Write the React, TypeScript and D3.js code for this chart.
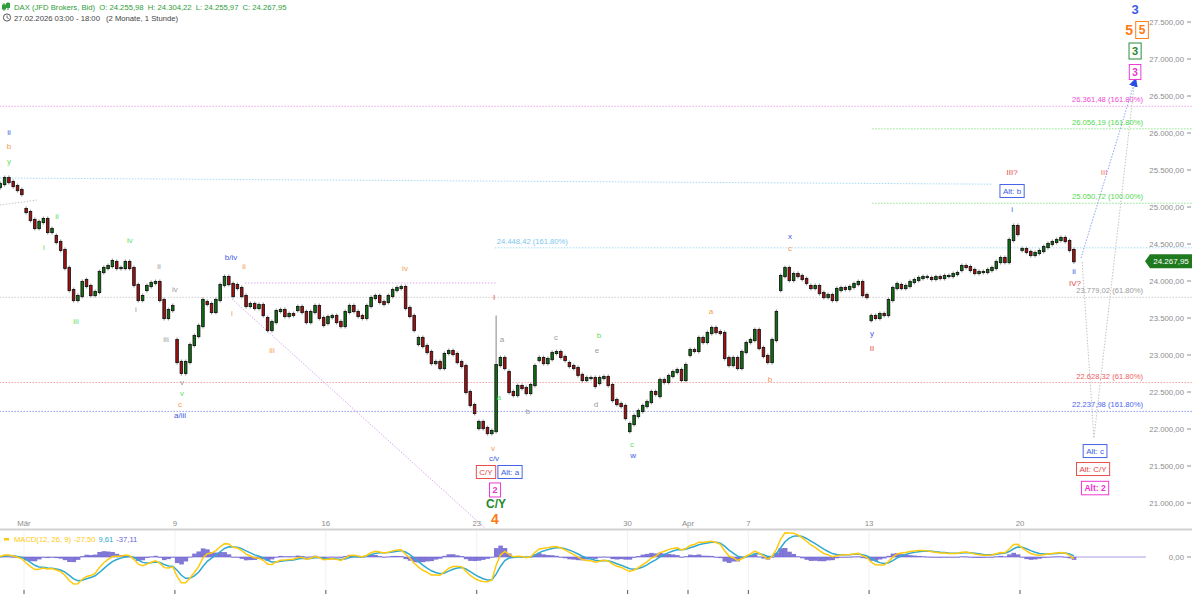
import React from "react";
import * as d3 from "d3";

const WIDTH = 1192;
const HEIGHT = 594;
const MAIN_BOTTOM = 528;
const MACD_ZERO_Y = 557;
const MACD_HALF = 27;
const SLOTS = 7;
const FONT = '"Liberation Sans", Arial, sans-serif';

// trading sessions (index 0 = 27.02.2026)
const tradingDays = [
  "27.02", "02.03", "03.03", "04.03", "05.03", "06.03", "09.03", "10.03", "11.03", "12.03",
  "13.03", "16.03", "17.03", "18.03", "19.03", "20.03", "23.03", "24.03", "25.03", "26.03",
  "27.03", "30.03", "31.03", "01.04", "02.04", "07.04", "08.04", "09.04", "10.04", "13.04",
  "14.04", "15.04", "16.04", "17.04", "20.04", "21.04",
];

// per session: opening price followed by the closes of the session's candles
const sessionPrices: number[][] = [
  [25229, 25270, 25310, 25391, 25337, 25283, 25229, 25175],
  [24973, 24932, 24824, 24716, 24797, 24838, 24662, 24703],
  [24608, 24527, 24419, 24176, 23878, 23743, 23797, 23986],
  [24013, 23932, 23810, 23851, 24121, 24175, 24202, 24270],
  [24256, 24175, 24175, 24256, 24175, 23946, 23743, 23797],
  [23878, 23932, 23973, 23986, 23743, 23500, 23607, 23662],
  [23202, 22905, 22757, 22905, 23135, 23256, 23391, 23743],
  [23716, 23689, 23581, 23743, 23946, 24054, 23959, 23797],
  [23946, 23905, 23797, 23662, 23689, 23635, 23675, 23540],
  [23500, 23337, 23445, 23594, 23607, 23527, 23554, 23540],
  [23607, 23648, 23581, 23445, 23581, 23662, 23500, 23405],
  [23432, 23513, 23527, 23445, 23391, 23581, 23662, 23594],
  [23581, 23527, 23500, 23662, 23770, 23797, 23716, 23689],
  [23716, 23797, 23878, 23905, 23919, 23635, 23527, 23337],
  [23148, 23229, 23121, 23040, 22891, 22905, 22824, 23013],
  [23027, 23054, 23013, 22905, 22851, 22500, 22324, 22216],
  [22013, 22094, 22013, 21945, 21972, 22864, 22959, 22824],
  [22770, 22500, 22459, 22581, 22554, 22486, 22594, 22851],
  [22932, 22959, 22891, 22945, 23027, 23040, 22973, 22932],
  [22891, 22851, 22824, 22730, 22662, 22689, 22689, 22581],
  [22621, 22689, 22702, 22594, 22391, 22337, 22310, 22148],
  [21972, 22067, 22175, 22243, 22310, 22364, 22500, 22473],
  [22445, 22662, 22635, 22716, 22770, 22797, 22662, 22864],
  [23000, 23067, 23054, 23229, 23175, 23297, 23365, 23310],
  [23310, 23297, 22959, 22864, 22959, 22824, 23040, 23162],
  [23175, 23202, 23337, 23094, 22986, 22905, 23202, 23581],
  [23878, 24067, 24175, 24013, 24094, 24067, 24027, 23973],
  [23932, 23905, 23932, 23837, 23783, 23810, 23743, 23892],
  [23878, 23905, 23892, 23919, 23959, 23986, 23810, 23783],
  [23472, 23527, 23500, 23554, 23540, 23743, 23905, 23959],
  [23946, 23905, 23932, 23986, 24013, 24040, 24054, 24054],
  [24040, 24027, 24054, 24040, 24067, 24067, 24094, 24108],
  [24148, 24202, 24189, 24148, 24108, 24121, 24121, 24148],
  [24148, 24175, 24256, 24310, 24256, 24554, 24743, 24635],
  [24419, 24432, 24392, 24351, 24378, 24405, 24459, 24500],
  [24500, 24527, 24554, 24581, 24540, 24419, 24267.95],
];

// long wicks: [session, candle, high]
const wickHighs: [number, number, number][] = [[16, 5, 23500]];

const tickDays = [1, 6, 11, 16, 21, 23, 25, 29, 34];
const tickLabels = ["Mär", "9", "16", "23", "30", "Apr", "7", "13", "20"];
const priceTicks = [21000, 21500, 22000, 22500, 23000, 23500, 24000, 24500, 25000, 25500, 26000, 26500, 27000, 27500];

const BLUE = "#3d5ce6";
const ORANGE = "#f39a52";
const ORANGE_BOLD = "#ff7a12";
const LGREEN = "#5fdc5f";
const GRAY = "#9b9b9b";
const RED = "#e64646";
const RED_LIGHT = "#ee7575";
const MAGENTA = "#ee2fd0";
const DGREEN = "#1e8a2e";

// Fibonacci levels
const levelPrices = [26361.48, 26056.19, 25050.72, 24448.42, 23779.02, 22628.32, 22237.98];
const levelRatios = ["161.80%", "161.80%", "100.00%", "161.80%", "61.80%", "61.80%", "161.80%"];
const levelLineColors = ["#f3a3e8", "#8fe68f", "#8fe68f", "#a6daf5", "#cfcfcf", "#f5a5a5", "#8d9cf2"];
const levelTextColors = ["#f04ad4", "#4fd84f", "#4fd84f", "#7cc6ee", "#9a9a9a", "#ee5e5e", "#4a66ee"];
const levelStarts = [-2, 29.1, 29.1, 16.6, -2, -2, -2];
const levelLabelLeft = [false, false, false, true, false, false, false];

// trend / projection lines: [[session, price], ...]
const trendLines: { pts: [number, number][]; color: string; arrow?: boolean }[] = [
  { pts: [[0.2, 25392], [33.1, 25308]], color: "#a6daf5" },
  { pts: [[0.2, 25027], [1.43, 25094]], color: "#c8c8c8" },
  { pts: [[8.32, 23973], [16.67, 23973]], color: "#dba8ee" },
  { pts: [[7.89, 23757], [16.31, 20649]], color: "#dba8ee" },
  { pts: [[36.06, 24257], [36.45, 21878], [37.78, 26635]], color: "#c4c4c4" },
  { pts: [[36.02, 24310], [37.8, 26690]], color: "#8ea2f5", arrow: true },
];

type Lbl = { d: number; p: number; t: string; c: string; s?: number; b?: boolean; box?: boolean };

const waveLabels: Lbl[] = [
  { d: 0.503, p: 26013, t: "ii", c: BLUE },
  { d: 0.503, p: 25824, t: "b", c: ORANGE },
  { d: 0.503, p: 25621, t: "y", c: LGREEN },
  { d: 2.093, p: 24878, t: "ii", c: LGREEN },
  { d: 1.663, p: 24459, t: "i", c: LGREEN },
  { d: 2.723, p: 23459, t: "iii", c: LGREEN },
  { d: 4.512, p: 24554, t: "iv", c: LGREEN },
  { d: 5.473, p: 24202, t: "ii", c: GRAY },
  { d: 6.003, p: 23892, t: "iv", c: GRAY },
  { d: 4.711, p: 23622, t: "i", c: GRAY },
  { d: 5.705, p: 23216, t: "iii", c: GRAY },
  { d: 6.235, p: 22635, t: "v", c: GRAY },
  { d: 6.235, p: 22486, t: "v", c: LGREEN },
  { d: 6.169, p: 22338, t: "c", c: ORANGE },
  { d: 6.169, p: 22189, t: "a/iii", c: BLUE },
  { d: 7.859, p: 24324, t: "b/iv", c: BLUE },
  { d: 8.29, p: 24202, t: "ii", c: ORANGE },
  { d: 7.892, p: 23567, t: "i", c: ORANGE },
  { d: 9.217, p: 23067, t: "iii", c: ORANGE },
  { d: 13.624, p: 24176, t: "iv", c: ORANGE },
  { d: 16.573, p: 23784, t: "I", c: RED },
  { d: 16.838, p: 23216, t: "a", c: GRAY },
  { d: 16.739, p: 22432, t: "a", c: LGREEN },
  { d: 17.7, p: 22243, t: "b", c: GRAY },
  { d: 18.628, p: 23243, t: "c", c: GRAY },
  { d: 20.052, p: 23270, t: "b", c: LGREEN },
  { d: 19.986, p: 23067, t: "e", c: GRAY },
  { d: 19.953, p: 22338, t: "d", c: GRAY },
  { d: 21.146, p: 21797, t: "c", c: LGREEN },
  { d: 21.179, p: 21648, t: "w", c: BLUE },
  { d: 16.54, p: 21743, t: "v", c: ORANGE },
  { d: 16.573, p: 21608, t: "c/v", c: BLUE },
  { d: 23.763, p: 23594, t: "a", c: ORANGE },
  { d: 25.718, p: 22675, t: "b", c: ORANGE },
  { d: 26.381, p: 24608, t: "x", c: BLUE },
  { d: 26.381, p: 24446, t: "c", c: ORANGE },
  { d: 29.098, p: 23297, t: "y", c: BLUE },
  { d: 29.098, p: 23094, t: "II", c: RED },
  { d: 33.737, p: 25473, t: "III?", c: RED },
  { d: 33.737, p: 24973, t: "i", c: BLUE },
  { d: 35.791, p: 24135, t: "ii", c: BLUE },
  { d: 35.824, p: 23973, t: "IV?", c: RED },
  { d: 36.785, p: 25473, t: "III", c: RED_LIGHT },
  { d: 16.639, p: 20986, t: "C/Y", c: DGREEN, s: 12, b: true },
  { d: 16.606, p: 20783, t: "4", c: ORANGE_BOLD, s: 14, b: true },
  { d: 37.813, p: 27676, t: "3", c: BLUE, s: 13, b: true },
  { d: 37.614, p: 27392, t: "5", c: ORANGE_BOLD, s: 14, b: true },
  { d: 16.308, p: 21419, t: "C/Y", c: RED, box: true },
  { d: 17.103, p: 21419, t: "Alt: a", c: BLUE, box: true },
  { d: 16.606, p: 21176, t: "2", c: MAGENTA, s: 9, b: true, box: true },
  { d: 33.737, p: 25216, t: "Alt: b", c: BLUE, box: true },
  { d: 36.487, p: 21702, t: "Alt: c", c: BLUE, box: true },
  { d: 36.421, p: 21459, t: "Alt: C/Y", c: RED, box: true },
  { d: 36.487, p: 21202, t: "Alt: 2", c: MAGENTA, s: 8.5, b: true, box: true },
  { d: 38.044, p: 27392, t: "5", c: ORANGE_BOLD, s: 12, b: true, box: true },
  { d: 37.813, p: 27108, t: "3", c: DGREEN, s: 11, b: true, box: true },
  { d: 37.813, p: 26824, t: "3", c: MAGENTA, s: 10, b: true, box: true },
];

let measureCtx: CanvasRenderingContext2D | null = null;
function textWidth(t: string, size: number, bold?: boolean) {
  if (!measureCtx) measureCtx = document.createElement("canvas").getContext("2d");
  if (!measureCtx) return t.length * size * 0.55;
  measureCtx.font = `${bold ? "bold " : ""}${size}px ${FONT}`;
  return measureCtx.measureText(t).width;
}

function ema(vals: number[], n: number) {
  const k = 2 / (n + 1);
  const out: number[] = [];
  let prev = vals[0];
  vals.forEach((v, i) => {
    prev = i === 0 ? v : v * k + prev * (1 - k);
    out.push(prev);
  });
  return out;
}

export default function App() {
  const x = d3.scaleLinear().domain([1, 34]).range([24, 1020]);
  const y = d3.scaleLinear().domain([21000, 27500]).range([503, 22]);
  const de = d3.formatLocale({ decimal: ",", thousands: ".", grouping: [3], currency: ["", ""] });
  const fmt = de.format(",.2f");

  const step = x(1 + 1 / SLOTS) - x(1);
  const candles: { t: number; o: number; c: number; h: number; l: number }[] = [];
  sessionPrices.forEach((arr, d) => {
    for (let j = 1; j < arr.length; j++) {
      const o = arr[j - 1];
      const c = arr[j];
      let h = Math.max(o, c);
      const spike = wickHighs.find((w) => w[0] === d && w[1] === j);
      if (spike) h = spike[2];
      candles.push({ t: d + (j - 0.5) / SLOTS, o, c, h, l: Math.min(o, c) });
    }
  });

  // MACD (12, 26, 9 hourly ~ 5, 11, 4 on these wider candles)
  const closes = candles.map((c) => c.c);
  const fast = ema(closes, 5);
  const slow = ema(closes, 11);
  const macd = fast.map((v, i) => v - slow[i]);
  const signal = ema(macd, 4);
  const hist = macd.map((v, i) => v - signal[i]);
  const m = d3.max(macd.concat(signal).map(Math.abs)) || 1;
  const yM = d3.scaleLinear().domain([-m, m]).range([MACD_ZERO_Y + MACD_HALF, MACD_ZERO_Y - MACD_HALF]);
  const macdLine = d3.line<number>().x((_, i) => x(candles[i].t)).y((v) => yM(v));

  const lastClose = closes[closes.length - 1];
  const tagY = y(lastClose);
  const dayEnd = x.invert(WIDTH + 5);

  const trendPath = d3.line<[number, number]>().x((p) => x(p[0])).y((p) => y(p[1]));

  return (
    <div style={{ position: "fixed", left: 0, top: 0, width: WIDTH, height: HEIGHT, background: "#fff" }}>
      <svg width={WIDTH} height={HEIGHT} style={{ display: "block", fontFamily: FONT }}>
        <defs>
          <clipPath id="mainClip">
            <rect x={0} y={0} width={WIDTH} height={MAIN_BOTTOM} />
          </clipPath>
          <clipPath id="macdClip">
            <rect x={0} y={MAIN_BOTTOM + 2} width={WIDTH} height={HEIGHT - MAIN_BOTTOM - 2} />
          </clipPath>
          <marker id="arrowBlue" viewBox="0 0 10 10" refX="5" refY="5" markerWidth="9" markerHeight="9" orient="auto">
            <path d="M0,0 L10,5 L0,10 z" fill="#2a4de8" />
          </marker>
        </defs>

        {/* header */}
        <g>
          <g stroke="#2e9e3a" fill="#2e9e3a">
            <line x1={4} y1={3} x2={4} y2={11} strokeWidth={1} />
            <rect x={2.5} y={5} width={3} height={4} />
            <line x1={8} y1={2} x2={8} y2={10} strokeWidth={1} />
            <rect x={6.5} y={3.5} width={3} height={4} />
          </g>
          <text x={14} y={10} fontSize={7.7} fill="#2e9e3a">
            <tspan>DAX (JFD Brokers, Bid)</tspan>
            <tspan dx={4}>O: 24.255,98</tspan>
            <tspan dx={4}>H: 24.304,22</tspan>
            <tspan dx={4}>L: 24.255,97</tspan>
            <tspan dx={4}>C: 24.267,95</tspan>
          </text>
          <circle cx={7} cy={17.5} r={3.6} fill="none" stroke="#444" strokeWidth={0.9} />
          <path d="M7,15.5 L7,17.7 L8.6,18.6" fill="none" stroke="#444" strokeWidth={0.8} />
          <text x={14} y={21} fontSize={7.7} fill="#444">
            <tspan>27.02.2026 03:00 - 18:00</tspan>
            <tspan dx={6}>(2 Monate, 1 Stunde)</tspan>
          </text>
        </g>

        {/* main panel */}
        <g clipPath="url(#mainClip)">
          {levelPrices.map((p, i) => (
            <line key={"lv" + i} x1={x(levelStarts[i])} x2={x(dayEnd)} y1={y(p)} y2={y(p)}
              stroke={levelLineColors[i]} strokeWidth={1} strokeDasharray="1.5,1.5" />
          ))}
          {trendLines.map((tl, i) => (
            <path key={"tl" + i} d={trendPath(tl.pts) || ""} fill="none" stroke={tl.color}
              strokeWidth={1} strokeDasharray="1.5,1.5" markerEnd={tl.arrow ? "url(#arrowBlue)" : undefined} />
          ))}

          {candles.map((c, i) => {
            const cx = x(c.t);
            const up = c.c >= c.o;
            const top = y(Math.max(c.o, c.c));
            const bot = y(Math.min(c.o, c.c));
            return (
              <g key={"c" + i}>
                <line x1={cx} x2={cx} y1={y(c.h) - 2.5} y2={y(c.l) + 2.5} stroke="#9a9a9a" strokeWidth={1.2} />
                <rect x={cx - 1.3} y={top - 0.6} width={2.6} height={Math.max(1.2, bot - top + 1.2)}
                  fill={up ? "#0d6e12" : "#a40f10"} stroke="#111" strokeWidth={0.8} />
              </g>
            );
          })}

          {levelPrices.map((p, i) => (
            <text key={"lt" + i} x={levelLabelLeft[i] ? x(levelStarts[i]) + 2 : 1143} y={y(p) - 4}
              fontSize={7.6} fill={levelTextColors[i]} textAnchor={levelLabelLeft[i] ? "start" : "end"}>
              {fmt(p)} ({levelRatios[i]})
            </text>
          ))}
        </g>

        {/* wave labels */}
        {waveLabels.map((l, i) => {
          const s = l.s || 8;
          const cx = x(l.d);
          const cy = y(l.p);
          if (l.box) {
            const w = textWidth(l.t, s, l.b) + 6;
            const h = s + 5;
            return (
              <g key={"wl" + i}>
                <rect x={cx - w / 2} y={cy - h / 2} width={w} height={h} fill="#fff" stroke={l.c} strokeWidth={1} opacity={0.95} />
                <text x={cx} y={cy + s * 0.36} fontSize={s} fontWeight={l.b ? "bold" : "normal"} fill={l.c} textAnchor="middle">{l.t}</text>
              </g>
            );
          }
          return (
            <text key={"wl" + i} x={cx} y={cy + s * 0.36} fontSize={s} fontWeight={l.b ? "bold" : "normal"} fill={l.c} textAnchor="middle">{l.t}</text>
          );
        })}

        {/* price axis */}
        {priceTicks.map((p) => (
          <g key={"pt" + p}>
            <text x={1184} y={y(p) + 3} fontSize={7.8} fill="#8c8c8c" textAnchor="end">{fmt(p)}</text>
            <line x1={1187} x2={1191} y1={y(p)} y2={y(p)} stroke="#8c8c8c" strokeWidth={1} />
          </g>
        ))}
        <path d={`M1145,${tagY} L1150,${tagY - 7} L1192,${tagY - 7} L1192,${tagY + 7} L1150,${tagY + 7} Z`} fill="#1f7a1f" />
        <text x={1171} y={tagY + 3} fontSize={8} fill="#fff" textAnchor="middle">{fmt(lastClose)}</text>

        {/* date axis */}
        {tickDays.map((d, i) => (
          <g key={"dt" + d}>
            <text x={x(d)} y={526} fontSize={7.8} fill="#8c8c8c" textAnchor="middle">{tickLabels[i]}</text>
            <line x1={x(d)} x2={x(d)} y1={531} y2={590} stroke="#f1f1f1" strokeWidth={1} />
            <line x1={x(d)} x2={x(d)} y1={590} y2={594} stroke="#555" strokeWidth={1} />
          </g>
        ))}
        <line x1={0} x2={WIDTH} y1={529.5} y2={529.5} stroke="#d2d2d2" strokeWidth={2} />

        {/* MACD panel */}
        <g clipPath="url(#macdClip)">
          <line x1={0} x2={1146} y1={MACD_ZERO_Y} y2={MACD_ZERO_Y} stroke="#6b5fd0" strokeWidth={0.6} />
          {hist.map((v, i) => {
            const cx = x(candles[i].t);
            const y0 = yM(0);
            const y1 = yM(v);
            return (
              <rect key={"h" + i} x={cx - step / 2} width={step + 0.3} y={Math.min(y0, y1)} height={Math.max(0.6, Math.abs(y1 - y0))}
                fill="#6b5fd0" opacity={0.85} />
            );
          })}
          <path d={macdLine(signal) || ""} fill="none" stroke="#2fa9cf" strokeWidth={1.5} />
          <path d={macdLine(macd) || ""} fill="none" stroke="#ffc90e" strokeWidth={1.5} />
        </g>
        <rect x={4} y={538} width={5} height={2.5} fill="#ffc90e" />
        <text x={14} y={541.5} fontSize={7.6}>
          <tspan fill="#ffc90e">MACD(12, 26, 9)</tspan>
          <tspan dx={3} fill="#ffc90e">-27,50</tspan>
          <tspan dx={3} fill="#2fa9cf">9,61</tspan>
          <tspan dx={3} fill="#6b5fd0">-37,11</tspan>
        </text>
        <text x={1184} y={MACD_ZERO_Y + 3} fontSize={7.8} fill="#8c8c8c" textAnchor="end">0,00</text>
        <line x1={1187} x2={1191} y1={MACD_ZERO_Y} y2={MACD_ZERO_Y} stroke="#8c8c8c" strokeWidth={1} />
      </svg>
    </div>
  );
}
